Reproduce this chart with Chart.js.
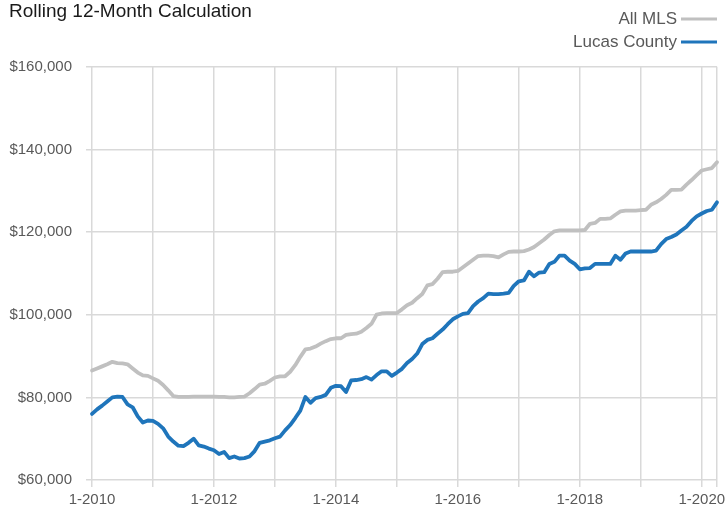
<!DOCTYPE html>
<html>
<head>
<meta charset="utf-8">
<script src="https://cdn.jsdelivr.net/npm/chart.js@4"></script>
<style>
  body { margin: 0; background: #fff; }
</style>
</head>
<body>
<canvas id="rolling" width="725" height="514"></canvas>
<script>
// month labels 1-2010 .. 4-2020
const months = [];
for (let y = 2010; y <= 2020; y++) {
    for (let m = 1; m <= 12; m++) {
        if (y === 2020 && m > 4) break;
        months.push(m + '-' + y);
    }
}

const all_mls = [
    86500, 87000, 87500, 88000, 88600, 88300, 88200, 88000, 87000, 86000, 85300, 85200,
    84600, 84000, 83000, 81700, 80300, 80100, 80100, 80100, 80200, 80200, 80200, 80200,
    80200, 80100, 80100, 80000, 80000, 80100, 80200, 81000, 82000, 83100, 83300, 84000,
    84800, 85100, 85100, 86200, 87800, 89800, 91600, 91800, 92300, 93000, 93600, 94100,
    94300, 94300, 95100, 95300, 95400, 95900, 96800, 97800, 100000, 100300, 100400, 100400,
    100400, 101300, 102300, 102900, 104000, 105000, 107100, 107400, 108700, 110300, 110400, 110400,
    110600, 111500, 112400, 113300, 114200, 114300, 114300, 114200, 113900, 114600, 115200, 115300,
    115300, 115400, 115800, 116400, 117300, 118200, 119300, 120200, 120400, 120400, 120400, 120400,
    120400, 120500, 122000, 122200, 123200, 123200, 123300, 124200, 125000, 125200, 125200, 125200,
    125300, 125400, 126600, 127200, 128000, 129000, 130200, 130200, 130300, 131500, 132600, 133800,
    134900, 135200, 135500, 136900
];

const lucas_county = [
    76000, 77100, 78000, 79000, 80000, 80200, 80100, 78300, 77600, 75400, 73900, 74400,
    74300, 73600, 72500, 70500, 69300, 68300, 68200, 69000, 70000, 68400, 68100, 67600,
    67200, 66300, 66800, 65300, 65700, 65200, 65300, 65700, 67000, 69000, 69300, 69600,
    70100, 70500, 72000, 73300, 75000, 76800, 80100, 78700, 79800, 80100, 80600, 82300,
    82800, 82700, 81300, 84100, 84200, 84400, 84900, 84300, 85400, 86300, 86300, 85200,
    86000, 86900, 88300, 89300, 90600, 92900, 93900, 94300, 95400, 96400, 97700, 98900,
    99600, 100200, 100400, 102100, 103200, 104000, 105100, 105000, 105000, 105100, 105300, 107000,
    108100, 108300, 110400, 109300, 110200, 110300, 112300, 112800, 114300, 114300, 113100, 112300,
    111000, 111200, 111300, 112300, 112300, 112300, 112300, 114300, 113300, 114800, 115300, 115300,
    115300, 115300, 115300, 115500, 117100, 118300, 118800, 119400, 120400, 121300, 122700, 123800,
    124500, 125100, 125400, 127200
];

const y_ticks = [60000, 80000, 100000, 120000, 140000, 160000];

const GRID = '#d9d9d9';
const TEXT = '#595959';
Chart.defaults.font.family = "'Liberation Sans', Arial, sans-serif";

// legend on the right, line sample after the text, one row per series
const side_legend = {
    id: 'side_legend',
    afterDraw(chart) {
        const ctx = chart.ctx;
        ctx.save();
        ctx.font = "17px 'Liberation Sans', Arial, sans-serif";
        ctx.textAlign = 'right';
        ctx.textBaseline = 'middle';
        chart.data.datasets.forEach((ds, i) => {
            const y = 19 + i * 23;
            ctx.fillStyle = TEXT;
            ctx.fillText(ds.label, 677, y);
            ctx.strokeStyle = ds.borderColor;
            ctx.lineWidth = 3;
            ctx.beginPath();
            ctx.moveTo(681, y);
            ctx.lineTo(717, y);
            ctx.stroke();
        });
        ctx.restore();
    }
};

new Chart('rolling', {
    type: 'line',
    data: {
        labels: months,
        datasets: [{
            label: 'All MLS',
            data: all_mls,
            borderColor: '#c0c0c0',
            borderWidth: 3.8
        }, {
            label: 'Lucas County',
            data: lucas_county,
            borderColor: '#1f75bb',
            borderWidth: 3.8
        }]
    },
    options: {
        responsive: false,
        animation: false,
        layout: {
            padding: { left: 9, right: 8, top: 0, bottom: 1 }
        },
        elements: {
            point: { radius: 0 },
            line: { tension: 0, borderJoinStyle: 'round', borderCapStyle: 'round' }
        },
        scales: {
            x: {
                type: 'category',
                offset: false,
                border: { display: false },
                grid: {
                    color: (c) => (c.index % 12 === 0 || c.index === months.length - 1) ? GRID : 'transparent',
                    lineWidth: 1.5,
                    tickLength: 7
                },
                ticks: {
                    autoSkip: false,
                    maxRotation: 0,
                    padding: 4,
                    color: TEXT,
                    font: { size: 15 },
                    callback: (value, index) => index % 24 === 0 ? months[index] : ''
                }
            },
            y: {
                min: y_ticks[0],
                max: y_ticks[y_ticks.length - 1],
                border: { display: false },
                grid: {
                    color: GRID,
                    lineWidth: 1.5,
                    tickLength: 6
                },
                afterBuildTicks: (scale) => {
                    scale.ticks = y_ticks.map(v => ({ value: v }));
                },
                afterFit: (scale) => {
                    scale.width = 83;
                },
                ticks: {
                    padding: 14,
                    color: TEXT,
                    font: { size: 15 },
                    callback: (value) => '$' + value.toLocaleString('en-US')
                }
            }
        },
        plugins: {
            legend: { display: false },
            tooltip: { enabled: false },
            title: {
                display: true,
                text: 'Rolling 12-Month Calculation',
                align: 'start',
                color: '#1a1a1a',
                font: { size: 19, weight: 'normal', lineHeight: 1.2 },
                padding: { top: 0, bottom: 44 }
            }
        }
    },
    plugins: [side_legend]
});
</script>
</body>
</html>
